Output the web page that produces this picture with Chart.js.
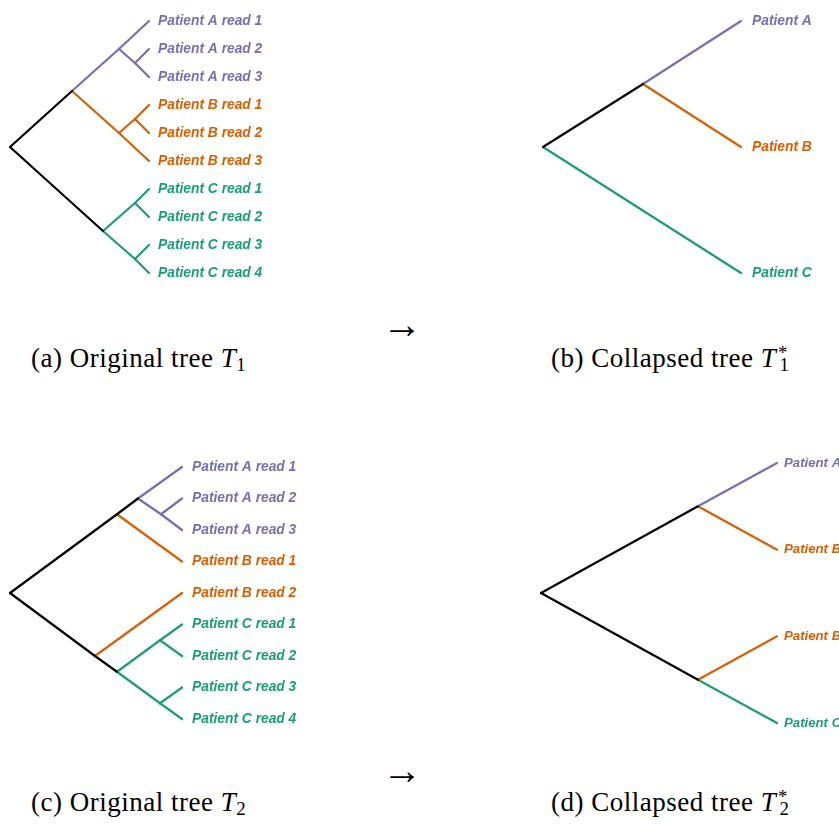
<!DOCTYPE html>
<html>
<head>
    <meta charset="utf-8" />
    <script src="https://cdn.jsdelivr.net/npm/chart.js"></script>
    <title>Tree collapsing</title>
    <style>
        body { margin: 0; background: #ffffff; }
        #page { position: relative; width: 839px; height: 825px; overflow: hidden; background: #ffffff; }
        .box { position: absolute; }
        .cap {
            position: absolute;
            font-family: "Liberation Serif", "Times New Roman", serif;
            font-size: 27px;
            line-height: 27px;
            letter-spacing: 0.5px;
            white-space: nowrap;
            color: #000;
        }
        .cap sub { font-size: 0.7em; vertical-align: -0.22em; line-height: 0; }
        .cap sup { font-size: 0.7em; vertical-align: 0.45em; line-height: 0; margin-left: 0.1em; }
        .cap .under { margin-left: -0.45em; }
        .arrow { font-size: 40px; line-height: 40px; letter-spacing: 0; }
    </style>
</head>
<body>
    <div id="page">
        <div class="box" id="boxA" style="left:0px; top:0px; width:300px; height:300px;"><canvas id="c1"></canvas></div>
        <div class="box" id="boxB" style="left:533px; top:0px; width:306px; height:300px;"><canvas id="c2"></canvas></div>
        <div class="box" id="boxC" style="left:0px; top:440px; width:330px; height:300px;"><canvas id="c3"></canvas></div>
        <div class="box" id="boxD" style="left:531px; top:440px; width:308px; height:300px;"><canvas id="c4"></canvas></div>

        <div class="cap arrow" style="left:382px; top:305px;">&rarr;</div>
        <div class="cap" style="left:31px; top:345px;">(a) Original tree <i>T</i><sub>1</sub></div>
        <div class="cap" style="left:551px; top:345px;">(b) Collapsed tree <i>T</i><sup>*</sup><sub class="under">1</sub></div>

        <div class="cap arrow" style="left:382px; top:751px;">&rarr;</div>
        <div class="cap" style="left:31px; top:789px;">(c) Original tree <i>T</i><sub>2</sub></div>
        <div class="cap" style="left:551px; top:789px;">(d) Collapsed tree <i>T</i><sup>*</sup><sub class="under">2</sub></div>
    </div>

    <script>
        "use strict";

        // ---- data ----
        // leaves sit at depth 1, at positions 0..n-1 (top to bottom)
        // internal nodes: depth from root (0..1) and vertical position in leaf units
        // edges: [parent, child, group]; a number child means that leaf

        // (a) original tree T1
        const t1Leaves = ["Patient A read 1", "Patient A read 2", "Patient A read 3",
            "Patient B read 1", "Patient B read 2", "Patient B read 3",
            "Patient C read 1", "Patient C read 2", "Patient C read 3", "Patient C read 4"];
        const t1Groups = ["A", "A", "A", "B", "B", "B", "C", "C", "C", "C"];
        const t1Nodes = ["root", "AB", "A", "A23", "B", "B12", "C", "C12", "C34"];
        const t1Depth = [0, 0.446, 0.784, 0.899, 0.784, 0.899, 0.669, 0.899, 0.899];
        const t1Pos = [4.5, 2.5, 1, 1.5, 4, 3.5, 7.5, 6.5, 8.5];
        const t1Edges = [
            ["root", "AB", "k"], ["root", "C", "k"],
            ["AB", "A", "A"], ["A", 0, "A"], ["A", "A23", "A"], ["A23", 1, "A"], ["A23", 2, "A"],
            ["AB", "B", "B"], ["B", "B12", "B"], ["B12", 3, "B"], ["B12", 4, "B"], ["B", 5, "B"],
            ["C", "C12", "C"], ["C12", 6, "C"], ["C12", 7, "C"],
            ["C", "C34", "C"], ["C34", 8, "C"], ["C34", 9, "C"]
        ];

        // (b) collapsed tree T1*
        const t1sLeaves = ["Patient A", "Patient B", "Patient C"];
        const t1sGroups = ["A", "B", "C"];
        const t1sNodes = ["root", "AB"];
        const t1sDepth = [0, 0.505];
        const t1sPos = [1, 0.5];
        const t1sEdges = [["root", "AB", "k"], ["AB", 0, "A"], ["AB", 1, "B"], ["root", 2, "C"]];

        // (c) original tree T2
        const t2Leaves = ["Patient A read 1", "Patient A read 2", "Patient A read 3",
            "Patient B read 1", "Patient B read 2",
            "Patient C read 1", "Patient C read 2", "Patient C read 3", "Patient C read 4"];
        const t2Groups = ["A", "A", "A", "B", "B", "C", "C", "C", "C"];
        const t2Nodes = ["root", "U", "A", "A23", "L", "C", "C12", "C34"];
        const t2Depth = [0, 0.622, 0.744, 0.878, 0.494, 0.622, 0.872, 0.872];
        const t2Pos = [4, 1.5, 1, 1.5, 6, 6.5, 5.5, 7.5];
        const t2Edges = [
            ["root", "U", "k"], ["U", "A", "k"], ["A", 0, "A"], ["A", "A23", "A"], ["A23", 1, "A"], ["A23", 2, "A"],
            ["U", 3, "B"],
            ["root", "L", "k"], ["L", 4, "B"], ["L", "C", "k"],
            ["C", "C12", "C"], ["C12", 5, "C"], ["C12", 6, "C"],
            ["C", "C34", "C"], ["C34", 7, "C"], ["C34", 8, "C"]
        ];

        // (d) collapsed tree T2*
        const t2sLeaves = ["Patient A", "Patient B", "Patient B", "Patient C"];
        const t2sGroups = ["A", "B", "B", "C"];
        const t2sNodes = ["root", "U", "L"];
        const t2sDepth = [0, 0.665, 0.665];
        const t2sPos = [1.5, 0.5, 2.5];
        const t2sEdges = [["root", "U", "k"], ["root", "L", "k"], ["U", 0, "A"], ["U", 1, "B"], ["L", 2, "B"], ["L", 3, "C"]];

        // ---- styles ----
        const groupColor = { A: "#7570b3", B: "#d95f02", C: "#1b9e77", k: "#000000" };

        function makeTree(canvasId, leaves, groups, nodes, depth, pos, edges, lay)
        {
            function pt(n)
            {
                if (typeof n === "number")
                {
                    return { x: 1, y: n };
                }
                let i = nodes.indexOf(n);
                return { x: depth[i], y: pos[i] };
            }

            let datasets = edges.map(e => ({
                data: [pt(e[0]), pt(e[1])],
                showLine: true,
                borderColor: groupColor[e[2]],
                borderWidth: 2.2,
                borderCapStyle: "round",
                pointRadius: 0,
                clip: false
            }));

            let c = document.querySelector(canvasId);
            return new Chart(c, {
                type: "scatter",
                data: { datasets: datasets },
                options: {
                    responsive: true,
                    maintainAspectRatio: false,
                    animation: false,
                    events: [],
                    layout: { padding: lay.padding },
                    plugins: { legend: { display: false }, tooltip: { enabled: false } },
                    scales: {
                        x: { type: "linear", display: false, min: 0, max: 1 },
                        y: {
                            type: "linear",
                            position: "right",
                            reverse: true,
                            min: 0,
                            max: leaves.length - 1,
                            grid: { display: false, drawTicks: false },
                            border: { display: false },
                            afterBuildTicks: s => { s.ticks = leaves.map((_, i) => ({ value: i })); },
                            afterFit: s => { s.width = lay.axisW; },
                            ticks: {
                                autoSkip: false,
                                padding: lay.gap,
                                color: ctx => groupColor[groups[ctx.index]],
                                font: { family: "'Liberation Sans', Arial, sans-serif", size: lay.font, style: "italic", weight: "bold" },
                                callback: v => leaves[Math.round(v)]
                            }
                        }
                    }
                }
            });
        }

        makeTree("#c1", t1Leaves, t1Groups, t1Nodes, t1Depth, t1Pos, t1Edges,
            { padding: { left: 10, top: 21, right: 0, bottom: 27 }, axisW: 151, gap: 9, font: 13.8 });
        makeTree("#c2", t1sLeaves, t1sGroups, t1sNodes, t1sDepth, t1sPos, t1sEdges,
            { padding: { left: 10, top: 21, right: 0, bottom: 27 }, axisW: 98, gap: 11, font: 13.8 });
        makeTree("#c3", t2Leaves, t2Groups, t2Nodes, t2Depth, t2Pos, t2Edges,
            { padding: { left: 10, top: 27, right: 0, bottom: 21 }, axisW: 148, gap: 10, font: 13.8 });
        makeTree("#c4", t2sLeaves, t2sGroups, t2sNodes, t2sDepth, t2sPos, t2sEdges,
            { padding: { left: 10, top: 23, right: 0, bottom: 17 }, axisW: 62, gap: 7, font: 13.2 });
    </script>
</body>
</html>
